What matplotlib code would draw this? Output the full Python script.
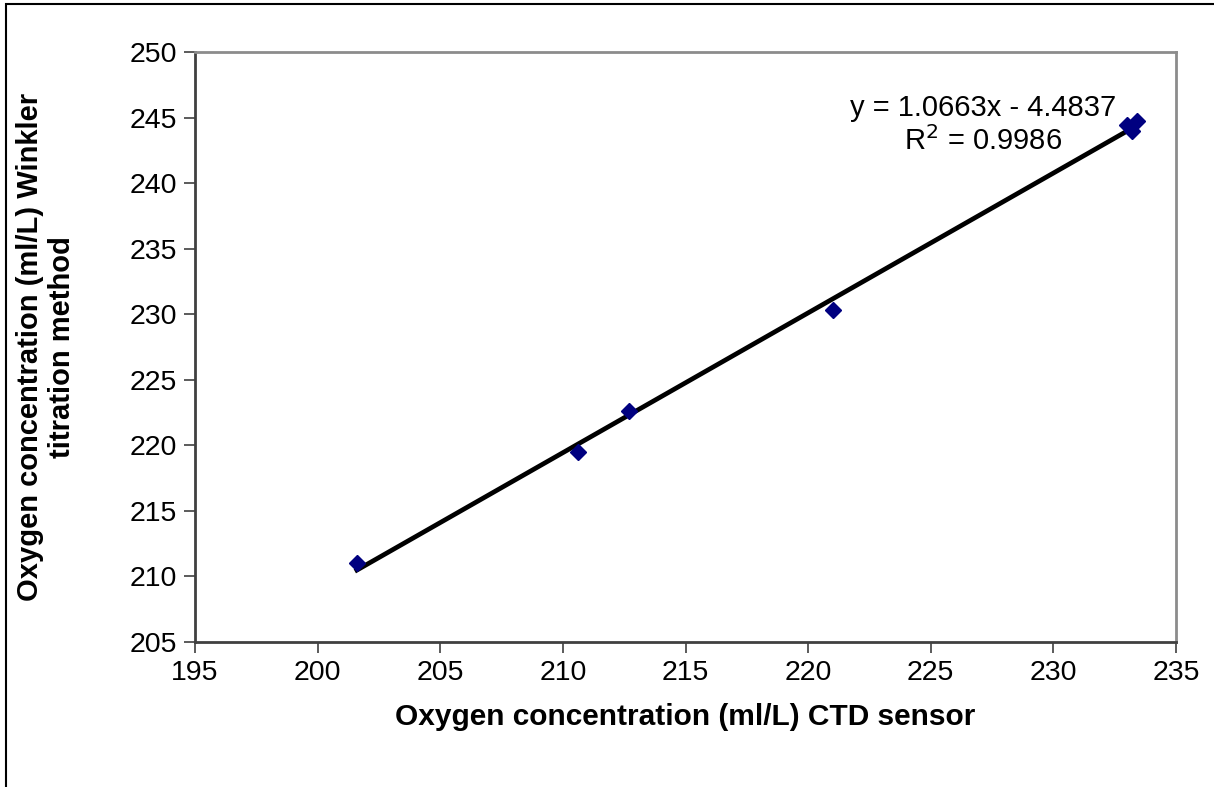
import numpy as np
import matplotlib
matplotlib.use('Agg')
import matplotlib.pyplot as plt
from matplotlib.patches import Rectangle

plt.rcParams['font.family'] = ['Liberation Sans', 'DejaVu Sans']

# CTD sensor vs Winkler titration readings
ctd = [201.6, 210.6, 212.7, 221.0, 233.0, 233.2, 233.4]
winkler = [211.0, 219.5, 222.6, 230.3, 244.4, 244.0, 244.7]

slope = 1.0663
intercept = -4.4837
r2 = 0.9986

x_ticks = [195, 200, 205, 210, 215, 220, 225, 230, 235]
y_ticks = [205, 210, 215, 220, 225, 230, 235, 240, 245, 250]

fig = plt.figure(figsize=(12.14, 7.87), dpi=100)
ax = fig.add_axes([195/1214, 1 - 642/787, (1176 - 195)/1214, (642 - 52)/787])

# trend line over the range of the data
xl = np.array([min(ctd), max(ctd)])
ax.plot(xl, slope * xl + intercept, color='black', lw=3.4, zorder=2)
ax.plot(ctd, winkler, linestyle='none', marker='D', markersize=8.5,
        color='#000080', zorder=3)

ax.set_xlim(195, 235)
ax.set_ylim(205, 250)
ax.set_xticks(x_ticks)
ax.set_yticks(y_ticks)
ax.tick_params(labelsize=20.5, length=8, width=1.2, color='#404040', direction='out', pad=5)

for side in ['left', 'bottom']:
    ax.spines[side].set_color('#404040')
    ax.spines[side].set_linewidth(2)
for side in ['top', 'right']:
    ax.spines[side].set_color('#8c8c8c')
    ax.spines[side].set_linewidth(2)

ax.set_xlabel('Oxygen concentration (ml/L) CTD sensor', fontsize=21.5,
              fontweight='bold', labelpad=12)
ax.set_ylabel('Oxygen concentration (ml/L) Winkler\ntitration method',
              fontsize=21, fontweight='bold', linespacing=1.2)
ax.yaxis.set_label_coords(-0.121, 0.5)

ax.text(983/1214, 1 - 108/787, 'y = 1.0663x - 4.4837', transform=fig.transFigure,
        ha='center', va='center', fontsize=21)
ax.text(983/1214, 1 - 141/787, 'R$^2$ = 0.9986', transform=fig.transFigure,
        ha='center', va='center', fontsize=21)

# outer chart border (cut off at right and bottom)
fig.patches.append(Rectangle((6/1214, -0.1), 1.2, 1.1 - 4/787,
                             transform=fig.transFigure, fill=False,
                             edgecolor='black', lw=1.5))

fig.savefig('out.png', dpi=100)
